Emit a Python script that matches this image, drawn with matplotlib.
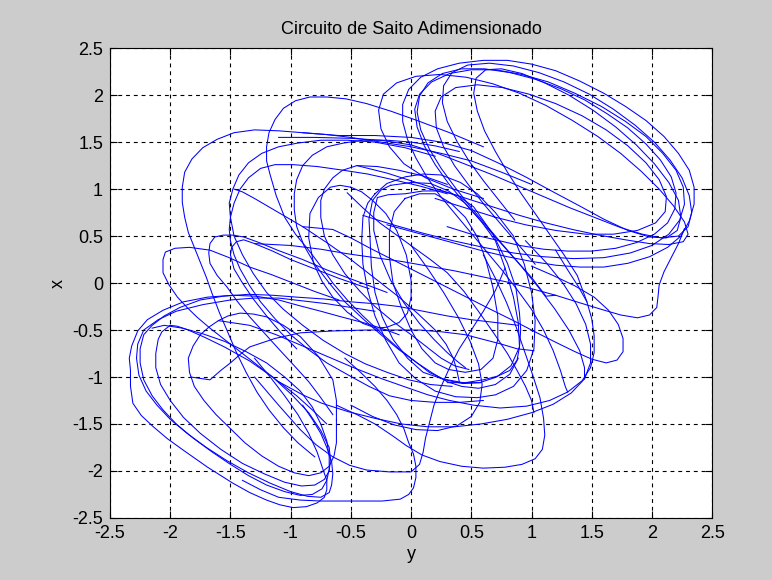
# Saito circuit (dimensionless) phase portrait, x against y
import matplotlib
matplotlib.use('Agg')
import matplotlib.pyplot as plt
import numpy as np

# trajectory pieces, as (y, x) pairs
# upper-right lobe
ur1 = [(-0.20,0.62),(0.00,0.55),(0.20,0.48),(0.40,0.41),(0.60,0.34),(0.80,0.28),(1.00,0.23),(1.20,0.19),
       (1.40,0.17),(1.60,0.17),(1.80,0.21),(1.98,0.28),(2.13,0.38),(2.24,0.50),(2.31,0.66),(2.35,0.84),
       (2.35,1.02),(2.31,1.20),(2.22,1.38),(2.10,1.56),(1.95,1.73),(1.78,1.88),(1.60,2.02),(1.40,2.15),
       (1.20,2.26),(1.00,2.33),(0.80,2.37),(0.60,2.37),(0.40,2.34),(0.22,2.28),(0.08,2.19),(-0.02,2.06),
       (-0.07,1.90),(-0.07,1.72),(-0.03,1.53),(0.04,1.33),(0.13,1.13),(0.24,0.93),(0.37,0.73),(0.50,0.53),
       (0.63,0.33),(0.76,0.13),(0.88,-0.07),(1.00,-0.28),(1.10,-0.50),(1.18,-0.72),(1.24,-0.93),(1.28,-1.10),
       (1.30,-1.16)]
ur2 = [(-0.40,0.72),(-0.15,0.62),(0.10,0.53),(0.35,0.45),(0.60,0.38),(0.85,0.32),(1.10,0.28),(1.35,0.26),
       (1.60,0.27),(1.82,0.32),(2.00,0.40),(2.14,0.52),(2.23,0.67),(2.27,0.84),(2.26,1.02),(2.20,1.20),
       (2.09,1.38),(1.95,1.56),(1.78,1.72),(1.58,1.88),(1.36,2.02),(1.14,2.14),(0.92,2.22),(0.70,2.27),
       (0.50,2.27),(0.32,2.23),(0.17,2.14),(0.07,2.01),(0.03,1.85),(0.05,1.66),(0.11,1.46),(0.20,1.26),
       (0.31,1.06),(0.44,0.86),(0.58,0.66),(0.72,0.46),(0.86,0.26),(1.00,0.06),(1.12,-0.14),(1.20,-0.13)]
ur3 = [(-0.90,1.60),(-0.60,1.57),(-0.30,1.57),(0.00,1.55),(0.25,1.50),(0.50,1.41),(0.72,1.28),(0.95,1.13),
       (1.18,0.97),(1.40,0.82),(1.60,0.68),(1.80,0.56),(1.98,0.49),(2.12,0.48),(2.21,0.56),(2.24,0.70),
       (2.22,0.88),(2.14,1.07),(2.02,1.27),(1.87,1.47),(1.70,1.66),(1.51,1.84),(1.31,2.00),(1.11,2.13),
       (0.92,2.23),(0.75,2.28),(0.62,2.27),(0.54,2.18),(0.52,2.02),(0.55,1.83),(0.61,1.62),(0.70,1.40),
       (0.80,1.18),(0.91,0.96),(1.03,0.74),(1.15,0.52),(1.27,0.30),(1.38,0.08),(1.46,-0.20)]
ur4 = [(0.30,0.60),(0.50,0.52),(0.70,0.46),(0.90,0.40),(1.10,0.36),(1.30,0.34),(1.50,0.34),(1.70,0.37),
       (1.87,0.43),(2.02,0.52),(2.13,0.64),(2.19,0.79),(2.20,0.96),(2.16,1.13),(2.07,1.31),(1.95,1.48),
       (1.80,1.65),(1.63,1.80),(1.44,1.95),(1.24,2.07),(1.03,2.17),(0.82,2.24),(0.61,2.28),(0.42,2.28),
       (0.26,2.23),(0.14,2.13),(0.07,1.99),(0.05,1.82),(0.08,1.63),(0.15,1.43),(0.25,1.22),(0.37,1.01),
       (0.50,0.80),(0.64,0.59),(0.78,0.38),(0.92,0.17),(1.06,-0.05),(1.19,-0.27),(1.31,-0.50),(1.40,-0.72),
       (1.44,-0.90),(1.44,-1.02)]
ur5 = [(0.60,0.90),(0.35,1.00),(0.12,1.12),(-0.06,1.27),(-0.18,1.45),(-0.25,1.64),(-0.27,1.84),(-0.23,2.01),
       (-0.12,2.13),(0.04,2.20),(0.24,2.22),(0.46,2.19),(0.68,2.12),(0.90,2.02),(1.12,1.89),(1.34,1.73),
       (1.55,1.56),(1.74,1.38),(1.91,1.19),(2.06,1.00),(2.18,0.82),(2.27,0.65),(2.30,0.52),(2.26,0.44),
       (2.14,0.41),(1.98,0.42),(1.78,0.46),(1.56,0.51),(1.34,0.57),(1.12,0.64),(0.90,0.72),(0.68,0.81),
       (0.46,0.90),(0.24,0.99),(0.02,1.08),(-0.20,1.17),(-0.45,1.25)]
ur6 = [(-1.10,1.55),(-0.80,1.55),(-0.50,1.54),(-0.25,1.52),(0.00,1.47),(0.22,1.38),(0.44,1.27),(0.66,1.16),
       (0.88,1.04),(1.10,0.92),(1.32,0.80),(1.54,0.69),(1.74,0.59),(1.92,0.52),(2.08,0.48),(2.22,0.50),
       (2.30,0.60),(2.33,0.75),(2.31,0.93),(2.25,1.12),(2.15,1.31),(2.02,1.50),(1.86,1.68),(1.68,1.85),
       (1.48,2.01),(1.27,2.14),(1.06,2.24),(0.85,2.31),(0.65,2.34),(0.47,2.32),(0.34,2.24),(0.27,2.10),
       (0.26,1.92),(0.30,1.72),(0.38,1.51),(0.48,1.30),(0.60,1.09),(0.73,0.88),(0.86,0.67)]
ur7 = [(0.20,0.90),(0.45,0.80),(0.70,0.70),(0.95,0.62),(1.20,0.56),(1.45,0.52),(1.68,0.52),(1.88,0.56),
       (2.03,0.64),(2.11,0.76),(2.12,0.92),(2.06,1.10),(1.95,1.28),(1.80,1.46),(1.62,1.63),(1.42,1.78),
       (1.20,1.91),(0.98,2.01),(0.76,2.08),(0.55,2.11),(0.37,2.08),(0.25,1.98),(0.20,1.83),(0.21,1.65),
       (0.27,1.45),(0.36,1.25),(0.48,1.04),(0.61,0.83),(0.75,0.62),(0.89,0.41),(1.03,0.20)]

# small loops below the upper lobe
lr1 = [(2.27,0.58),(2.22,0.42),(2.16,0.27),(2.10,0.12),(2.06,-0.02),(2.05,-0.15),(2.04,-0.26),(1.98,-0.34),
       (1.88,-0.37),(1.74,-0.34),(1.58,-0.28),(1.40,-0.21),(1.20,-0.13),(1.00,-0.06),(0.80,0.01),(0.58,0.07),
       (0.36,0.13),(0.14,0.18),(-0.08,0.23),(-0.30,0.27),(-0.52,0.31),(-0.75,0.36),(-1.00,0.40),(-1.30,0.42)]
lr2 = [(1.00,0.18),(1.18,0.08),(1.36,-0.03),(1.52,-0.15),(1.64,-0.29),(1.72,-0.44),(1.76,-0.59),(1.76,-0.73),
       (1.71,-0.82),(1.62,-0.85),(1.50,-0.81),(1.36,-0.73),(1.20,-0.63),(1.03,-0.52),(0.85,-0.40),(0.66,-0.28),
       (0.46,-0.15),(0.26,-0.02),(0.06,0.11),(-0.14,0.24),(-0.34,0.37),(-0.50,0.48),(-0.65,0.57),(-0.90,0.60)]

# big loops on the right of the centre
rb1 = [(1.20,0.35),(1.30,0.14),(1.39,-0.04),(1.46,-0.20),(1.50,-0.38),(1.52,-0.56),(1.52,-0.74),(1.49,-0.90),
       (1.42,-1.04),(1.30,-1.16),(1.15,-1.25),(0.96,-1.31),(0.74,-1.33),(0.52,-1.30),(0.32,-1.25),(0.14,-1.19),
       (-0.04,-1.11),(-0.24,-1.02),(-0.46,-0.91),(-0.68,-0.79),(-0.90,-0.67),(-1.12,-0.55),(-1.34,-0.45),
       (-1.60,-0.40)]
rb2 = [(0.95,0.45),(1.12,0.22),(1.26,0.00),(1.37,-0.22),(1.45,-0.44),(1.49,-0.65),(1.49,-0.85),(1.44,-1.02),
       (1.33,-1.17),(1.18,-1.29),(1.00,-1.38),(0.80,-1.45),(0.58,-1.50),(0.36,-1.53),(0.14,-1.53),(-0.08,-1.50),
       (-0.30,-1.44),(-0.52,-1.37),(-0.74,-1.28),(-0.90,-1.19),(-1.10,-1.05)]
rb3 = [(0.60,0.30),(0.70,0.05),(0.79,-0.20),(0.87,-0.46),(0.94,-0.72),(1.01,-0.98),(1.07,-1.22),(1.10,-1.44),
       (1.11,-1.62),(1.09,-1.77),(1.03,-1.87),(0.92,-1.93),(0.78,-1.96),(0.60,-1.97),(0.42,-1.95),(0.24,-1.90),
       (0.09,-1.83),(-0.04,-1.73),(-0.16,-1.62),(-0.30,-1.50),(-0.45,-1.40),(-0.62,-1.30)]
rb4 = [(0.00,0.40),(0.14,0.15),(0.27,-0.10),(0.39,-0.36),(0.49,-0.62),(0.56,-0.86),(0.59,-1.08),(0.57,-1.27),
       (0.50,-1.42),(0.38,-1.52),(0.22,-1.57),(0.04,-1.56),(-0.14,-1.51),(-0.32,-1.42),(-0.50,-1.30)]

# loops round the centre
e1 = [(-0.17,1.04),(0.00,1.07),(0.16,1.06),(0.31,0.98),(0.45,0.85),(0.58,0.66),(0.70,0.45),(0.78,0.16),
      (0.85,-0.15),(0.89,-0.42),(0.90,-0.68),(0.83,-0.88),(0.71,-1.00),(0.57,-1.06),(0.43,-1.06),(0.26,-1.02),
      (0.10,-0.95),(-0.03,-0.80),(-0.15,-0.60),(-0.24,-0.36),(-0.30,-0.10),(-0.33,0.18),(-0.34,0.45),
      (-0.35,0.68),(-0.32,0.88),(-0.25,0.99),(-0.17,1.04)]
e2 = [(-0.30,0.95),(-0.20,1.06),(-0.05,1.13),(0.10,1.16),(0.25,1.15),(0.41,1.07),(0.55,0.95),(0.70,0.75),
      (0.85,0.50),(0.94,0.20),(1.00,-0.10),(1.03,-0.40),(1.02,-0.70),(0.96,-0.93),(0.85,-1.10),(0.70,-1.19),
      (0.55,-1.22),(0.37,-1.21),(0.20,-1.15),(0.04,-1.02),(-0.10,-0.85),(-0.21,-0.61),(-0.30,-0.35),
      (-0.36,-0.08),(-0.40,0.20),(-0.41,0.46),(-0.40,0.70),(-0.36,0.85),(-0.30,0.95)]
e3 = [(-0.05,0.90),(0.07,0.95),(0.20,0.95),(0.33,0.85),(0.45,0.70),(0.55,0.49),(0.62,0.25),(0.68,-0.05),
      (0.72,-0.35),(0.72,-0.60),(0.68,-0.80),(0.58,-0.92),(0.45,-0.95),(0.31,-0.92),(0.20,-0.85),(0.09,-0.70),
      (0.00,-0.50),(-0.08,-0.26),(-0.15,0.00),(-0.18,0.28),(-0.18,0.55),(-0.14,0.76),(-0.05,0.90)]
e4 = [(-0.50,1.02),(-0.59,1.04),(-0.67,1.02),(-0.77,0.91),(-0.84,0.74),(-0.85,0.48),(-0.81,0.21),(-0.74,0.02),
      (-0.65,-0.15),(-0.53,-0.31),(-0.40,-0.43),(-0.29,-0.48),(-0.20,-0.47),(-0.10,-0.42),(-0.03,-0.32),
      (0.00,-0.15),(0.00,0.03),(-0.04,0.30),(-0.12,0.56),(-0.21,0.74),(-0.32,0.88),(-0.41,0.97),(-0.50,1.02)]
e5 = [(0.30,-1.06),(0.45,-1.06),(0.60,-1.03),(0.72,-0.99),(0.82,-0.93),(0.88,-0.82),(0.90,-0.68),(0.91,-0.50),
      (0.90,-0.32),(0.87,-0.05),(0.80,0.21),(0.68,0.52),(0.52,0.81),(0.39,0.93),(0.25,0.98),(0.10,0.98),
      (-0.05,0.95),(-0.19,0.94),(-0.28,0.91),(-0.31,0.75),(-0.31,0.56),(-0.26,0.30),(-0.17,0.03),(-0.06,-0.21),
      (0.07,-0.43),(0.19,-0.60),(0.30,-0.74),(0.38,-0.83),(0.45,-0.90)]

# arcs over the upper left
c1 = [(1.00,1.05),(0.75,1.18),(0.50,1.30),(0.25,1.38),(0.00,1.45),(-0.25,1.50),(-0.50,1.55),(-0.70,1.58),
      (-0.90,1.60),(-1.10,1.62),(-1.30,1.63),(-1.47,1.60),(-1.61,1.53),(-1.73,1.44),(-1.82,1.32),(-1.88,1.18),
      (-1.90,1.02),(-1.90,0.86),(-1.88,0.70),(-1.85,0.54),(-1.80,0.38),(-1.75,0.22),(-1.70,0.06),(-1.65,-0.12),
      (-1.59,-0.32),(-1.52,-0.53),(-1.45,-0.74),(-1.37,-0.95),(-1.28,-1.16),(-1.18,-1.35),(-1.06,-1.54),
      (-0.94,-1.70),(-0.80,-1.85)]
c2 = [(0.60,1.45),(0.32,1.60),(0.05,1.73),(-0.17,1.83),(-0.37,1.91),(-0.54,1.96),(-0.70,1.98),(-0.84,1.98),
      (-0.96,1.94),(-1.06,1.86),(-1.13,1.74),(-1.18,1.60),(-1.20,1.45),(-1.20,1.30),(-1.17,1.15),(-1.12,0.93),
      (-1.05,0.70),(-0.96,0.52),(-0.85,0.35),(-0.75,0.18),(-0.65,0.00),(-0.53,-0.18),(-0.40,-0.35),
      (-0.25,-0.53),(-0.10,-0.70),(0.03,-0.83),(0.15,-0.95),(0.28,-1.03),(0.43,-1.07),(0.58,-1.06)]
c3 = [(0.30,0.95),(0.08,1.03),(-0.15,1.10),(-0.36,1.16),(-0.56,1.20),(-0.78,1.24),(-0.98,1.26),(-1.13,1.26),
      (-1.25,1.22),(-1.35,1.12),(-1.42,1.00),(-1.47,0.85),(-1.50,0.70),(-1.51,0.57),(-1.50,0.45),(-1.47,0.30),
      (-1.42,0.15),(-1.34,-0.03),(-1.25,-0.20),(-1.13,-0.38),(-1.00,-0.55),(-0.85,-0.71),(-0.70,-0.85),
      (-0.52,-0.98),(-0.35,-1.10),(-0.18,-1.20),(0.00,-1.25),(0.20,-1.27),(0.40,-1.27),(0.60,-1.25)]
c4 = [(0.20,1.35),(-0.05,1.44),(-0.30,1.50),(-0.53,1.52),(-0.75,1.52),(-0.94,1.49),(-1.10,1.45),(-1.24,1.38),
      (-1.35,1.28),(-1.43,1.15),(-1.48,1.00),(-1.51,0.85),(-1.50,0.70),(-1.47,0.50),(-1.40,0.30),(-1.31,0.10),
      (-1.20,-0.10),(-1.06,-0.28),(-0.90,-0.45),(-0.73,-0.61),(-0.55,-0.75),(-0.38,-0.86),(-0.20,-0.95),
      (-0.02,-1.03),(0.16,-1.08),(0.34,-1.10)]
c5 = [(0.40,1.40),(0.20,1.46),(0.00,1.50),(-0.20,1.52),(-0.40,1.52),(-0.56,1.49),(-0.70,1.45),(-0.82,1.36),
      (-0.90,1.25),(-0.95,1.10),(-0.97,0.95),(-0.97,0.78),(-0.95,0.60),(-0.89,0.40),(-0.80,0.20),(-0.68,0.00),
      (-0.55,-0.20),(-0.40,-0.38),(-0.25,-0.55),(-0.10,-0.71),(0.05,-0.85),(0.18,-0.96),(0.30,-1.05),
      (0.42,-1.10),(0.56,-1.12),(0.70,-1.08),(0.82,-0.97),(0.89,-0.80)]
c6 = [(0.30,1.05),(0.10,1.14),(-0.10,1.20),(-0.28,1.24),(-0.45,1.25),(-0.57,1.20),(-0.65,1.12),(-0.72,1.00),
      (-0.75,0.88),(-0.75,0.70),(-0.72,0.50),(-0.65,0.30),(-0.55,0.10),(-0.43,-0.08),(-0.30,-0.25),
      (-0.15,-0.41),(0.00,-0.55),(0.13,-0.68),(0.25,-0.80),(0.36,-0.88),(0.48,-0.92)]
d1 = [(-1.47,1.00),(-1.40,0.97),(-1.30,0.90),(-1.10,0.75),(-0.90,0.60),(-0.70,0.43),(-0.50,0.25),(-0.30,0.05),
      (-0.10,-0.15),(0.06,-0.33),(0.20,-0.50),(0.29,-0.65),(0.35,-0.80),(0.38,-0.93),(0.40,-1.05)]
d2 = [(-0.53,0.96),(-0.40,0.80),(-0.26,0.64),(-0.12,0.51),(0.02,0.38),(0.16,0.25),(0.30,0.11),(0.44,-0.09),
      (0.57,-0.32),(0.69,-0.54),(0.80,-0.75),(0.88,-0.93),(0.95,-1.10),(1.00,-1.25),(1.02,-1.38)]

# lower-left lobe
ll1 = [(-0.10,-0.55),(-0.25,-0.48),(-0.40,-0.42),(-0.58,-0.36),(-0.75,-0.30),(-0.93,-0.24),(-1.10,-0.18),
       (-1.29,-0.14),(-1.48,-0.13),(-1.69,-0.15),(-1.89,-0.20),(-2.06,-0.29),(-2.19,-0.39),(-2.27,-0.51),
       (-2.32,-0.67),(-2.34,-0.80),(-2.33,-0.93),(-2.33,-1.10),(-2.31,-1.28),(-2.24,-1.41),(-2.14,-1.53),
       (-2.02,-1.66),(-1.89,-1.78),(-1.69,-1.96),(-1.48,-2.13),(-1.34,-2.23),(-1.20,-2.31),(-1.09,-2.36),
       (-0.98,-2.39),(-0.87,-2.38),(-0.78,-2.34),(-0.72,-2.28),(-0.70,-2.20),(-0.70,-2.10),(-0.73,-1.99),
       (-0.78,-1.80),(-0.85,-1.60),(-0.94,-1.40),(-1.05,-1.20),(-1.17,-1.00),(-1.30,-0.80)]
ll2 = [(-1.83,-1.00),(-1.67,-1.03),(-1.58,-0.93),(-1.50,-0.85),(-1.42,-0.76),(-1.34,-0.68),(-1.13,-0.59),
       (-0.92,-0.53),(-0.65,-0.51),(-0.37,-0.50),(-0.15,-0.50),(0.07,-0.50),(0.26,-0.52),(0.45,-0.55),
       (0.60,-0.60),(0.75,-0.65),(0.88,-0.70),(1.02,-0.72)]
ll3 = [(0.89,-0.45),(0.70,-0.42),(0.50,-0.39),(0.30,-0.35),(0.10,-0.30),(-0.10,-0.25),(-0.30,-0.22),
       (-0.50,-0.20),(-0.72,-0.17),(-0.95,-0.15),
       (-1.15,-0.13),(-1.35,-0.12),(-1.56,-0.14),(-1.75,-0.18),(-1.92,-0.26),(-2.05,-0.35),(-2.15,-0.45),
       (-2.22,-0.55),(-2.25,-0.70),(-2.25,-0.85),(-2.22,-1.03),(-2.15,-1.20),(-2.06,-1.35),(-1.95,-1.50),
       (-1.81,-1.65),(-1.65,-1.80),(-1.50,-1.93),(-1.35,-2.05),(-1.20,-2.15),(-1.05,-2.22),(-0.92,-2.26),
       (-0.82,-2.25),(-0.74,-2.19),(-0.70,-2.10),(-0.68,-1.98),(-0.68,-1.85),(-0.70,-1.68),(-0.75,-1.50),
       (-0.82,-1.32),(-0.92,-1.15),(-1.05,-1.00),(-1.20,-0.85),(-1.37,-0.73),(-1.55,-0.62),(-1.73,-0.54),
       (-1.90,-0.48),(-2.05,-0.45),(-2.15,-0.48)]
ll4 = [(-0.62,-1.46),(-0.62,-1.25),(-0.65,-1.03),(-0.77,-0.78),(-0.92,-0.57),(-1.06,-0.45),(-1.20,-0.36),
       (-1.31,-0.33),(-1.42,-0.32),(-1.52,-0.35),(-1.60,-0.40),(-1.68,-0.47),(-1.75,-0.55),(-1.81,-0.67),
       (-1.85,-0.80),(-1.84,-0.95),(-1.80,-1.10),(-1.72,-1.25),(-1.62,-1.40),(-1.50,-1.55),(-1.38,-1.70),
       (-1.24,-1.84),(-1.10,-1.95),(-0.97,-2.02),(-0.85,-2.05),(-0.75,-2.02),(-0.68,-1.95),(-0.64,-1.84),
       (-0.62,-1.70),(-0.62,-1.58),(-0.62,-1.46)]
ll5 = [(-2.00,-0.45),(-2.07,-0.52),(-2.10,-0.60),(-2.12,-0.75),(-2.12,-0.90),(-2.08,-1.08),(-2.00,-1.25),
       (-1.89,-1.43),(-1.75,-1.60),(-1.58,-1.77),(-1.40,-1.92),(-1.22,-2.03),(-1.05,-2.12),(-0.91,-2.16),
       (-0.80,-2.15),(-0.72,-2.09),(-0.68,-2.00),(-0.67,-1.88),(-0.68,-1.75),(-0.75,-1.57),(-0.85,-1.38),
       (-0.99,-1.19),(-1.15,-1.00),(-1.34,-0.83),(-1.55,-0.68),(-1.71,-0.58),(-1.85,-0.50),(-1.94,-0.46),
       (-2.00,-0.45)]
ll6 = [(-0.30,-0.30),(-0.50,-0.26),(-0.70,-0.22),(-0.90,-0.19),(-1.10,-0.16),(-1.30,-0.16),(-1.50,-0.18),
       (-1.73,-0.23),(-1.95,-0.30),(-2.10,-0.39),(-2.22,-0.50),(-2.27,-0.65),(-2.28,-0.80),(-2.26,-0.98),
       (-2.20,-1.15),(-2.11,-1.30),(-2.00,-1.45),(-1.86,-1.60),(-1.70,-1.75),(-1.53,-1.89),(-1.35,-2.02),
       (-1.17,-2.13),(-1.00,-2.22),(-0.86,-2.27),(-0.75,-2.28),(-0.68,-2.23),(-0.66,-2.15),(-0.65,-2.03),
       (-0.66,-1.90),(-0.70,-1.75),(-0.75,-1.60),(-0.82,-1.45),(-0.90,-1.30)]

# loops climbing out of the lower-left lobe
lu1 = [(-0.60,-0.18),(-0.80,-0.09),(-0.98,0.00),(-1.16,0.09),(-1.34,0.17),(-1.51,0.27),(-1.67,0.35),
       (-1.84,0.38),(-1.96,0.37),(-2.04,0.33),(-2.06,0.25),(-2.06,0.11),(-2.01,-0.02),(-1.94,-0.15),
       (-1.86,-0.26),(-1.78,-0.36),(-1.67,-0.48),(-1.55,-0.60),(-1.40,-0.75),(-1.25,-0.90),(-1.10,-1.05),
       (-0.95,-1.20),(-0.82,-1.35),(-0.70,-1.50)]
lu2 = [(-0.20,-0.10),(-0.45,0.02),(-0.70,0.14),(-0.90,0.25),(-1.11,0.35),(-1.26,0.43),(-1.39,0.49),
       (-1.48,0.51),(-1.56,0.51),(-1.63,0.49),(-1.67,0.42),(-1.68,0.32),(-1.67,0.21),(-1.61,0.08),(-1.53,-0.04),
       (-1.44,-0.20),(-1.34,-0.36),(-1.22,-0.53),(-1.10,-0.70),(-0.97,-0.88),(-0.85,-1.05),(-0.75,-1.22),
       (-0.65,-1.40)]
lu3 = [(-0.35,-0.06),(-0.60,0.05),(-0.80,0.15),(-1.00,0.25),(-1.15,0.34),(-1.30,0.42),(-1.39,0.46),
       (-1.45,0.44),(-1.49,0.38),(-1.50,0.30),(-1.47,0.15),(-1.40,0.00),(-1.31,-0.17),(-1.20,-0.35),
       (-1.08,-0.53),(-0.95,-0.70)]

# arcs along the bottom
la1 = [(-1.30,-1.00),(-1.20,-1.15),(-1.10,-1.30),(-1.01,-1.43),(-0.92,-1.56),(-0.79,-1.72),(-0.65,-1.85),
       (-0.51,-1.94),(-0.37,-1.99),(-0.18,-2.01),(0.00,-2.01),(0.07,-1.93),(0.10,-1.80),(0.12,-1.65),
       (0.15,-1.50),(0.19,-1.30),(0.25,-1.10),(0.32,-0.90),(0.40,-0.70),(0.50,-0.50),(0.60,-0.30),
       (0.70,-0.08),(0.78,0.16)]
la2 = [(-1.40,-2.10),(-1.25,-2.20),(-1.10,-2.28),(-0.92,-2.31),(-0.75,-2.32),(-0.57,-2.32),(-0.40,-2.32),
       (-0.24,-2.32),(-0.09,-2.30),(-0.02,-2.25),(0.02,-2.18),(0.04,-2.07),(0.04,-1.95),(0.02,-1.82),
       (-0.02,-1.70),(-0.06,-1.55),(-0.12,-1.40),(-0.20,-1.25),(-0.30,-1.10),(-0.42,-0.95),(-0.55,-0.80)]

pieces = [ur1, ur2, ur3, ur4, ur5, ur6, ur7, lr1, lr2, rb1, rb2, rb3, rb4,
          e1, e2, e3, e4, e5, c1, c2, c3, c4, c5, c6, d1, d2,
          ll1, ll2, ll3, ll4, ll5, ll6, lu1, lu2, lu3, la1, la2]

ticks = np.arange(-2.5, 2.51, 0.5)
tick_labels = ['-2.5', '-2', '-1.5', '-1', '-0.5', '0', '0.5', '1', '1.5', '2', '2.5']

plt.rcParams['font.family'] = ['Liberation Sans', 'DejaVu Sans']

fig = plt.figure(figsize=(7.72, 5.80), dpi=100, facecolor='#cccccc')
ax = fig.add_axes([0.1425, 0.107, 0.780, 0.810])
ax.set_facecolor('white')

for p in pieces:
    arr = np.array(p)
    ax.plot(arr[:, 0], arr[:, 1], color='#0000ff', linewidth=0.75)

ax.set_xlim(-2.5, 2.5)
ax.set_ylim(-2.5, 2.5)
ax.set_xticks(ticks)
ax.set_yticks(ticks)
ax.set_xticklabels(tick_labels)
ax.set_yticklabels(tick_labels)
ax.grid(True, color='black', linestyle=(0, (3.5, 3.5)), linewidth=0.8)
ax.tick_params(direction='in', top=True, right=True, length=5, labelsize=13, pad=5)
for s in ax.spines.values():
    s.set_linewidth(0.8)

ax.set_title('Circuito de Saito Adimensionado', fontsize=13, pad=10)
ax.set_xlabel('y', fontsize=13, labelpad=3)
ax.set_ylabel('x', fontsize=13, labelpad=4)

fig.savefig('out.png', dpi=100, facecolor=fig.get_facecolor())
